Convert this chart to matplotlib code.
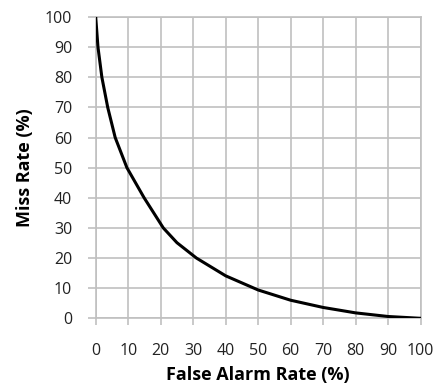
import matplotlib
matplotlib.use("Agg")
import matplotlib.pyplot as plt

# curve
false_alarm = [0, 0.7, 1.9, 3.7, 6.0, 9.6, 14.9, 20.8, 25, 31, 40, 50, 60, 70, 80, 90, 100]
miss_rate = [100, 90, 80, 70, 60, 50, 40, 30, 25.1, 20, 14.1, 9.4, 6.0, 3.6, 1.8, 0.6, 0]
ticks = list(range(0, 101, 10))

plt.rcParams['font.family'] = ['Open Sans', 'DejaVu Sans']
grid_col = "#c0c0c0"

fig = plt.figure(figsize=(4.4, 3.87), dpi=100)
ax = fig.add_axes([0.2175, 0.1775, 0.7385, 0.7785])

ax.plot(false_alarm, miss_rate, color="black", linewidth=2.2, zorder=3,
        solid_joinstyle="round")

ax.set_xlim(0, 100)
ax.set_ylim(0, 100)
ax.set_xticks(ticks)
ax.set_yticks(ticks)
ax.grid(True, color=grid_col, linewidth=1.2)
for s in ax.spines.values():
    s.set_color(grid_col)
    s.set_linewidth(1.2)

ax.tick_params(axis="x", length=5, width=1.2, color=grid_col, pad=13,
               labelsize=11.5, labelcolor="#222222")
ax.tick_params(axis="y", length=6, width=1.2, color=grid_col, pad=11,
               labelsize=11.5, labelcolor="#222222")

ax.set_xlabel("False Alarm Rate (%)", fontsize=13, fontweight="bold", labelpad=5)
ax.set_ylabel("Miss Rate (%)", fontsize=13, fontweight="bold", labelpad=8)

fig.savefig("out.png", dpi=100)
